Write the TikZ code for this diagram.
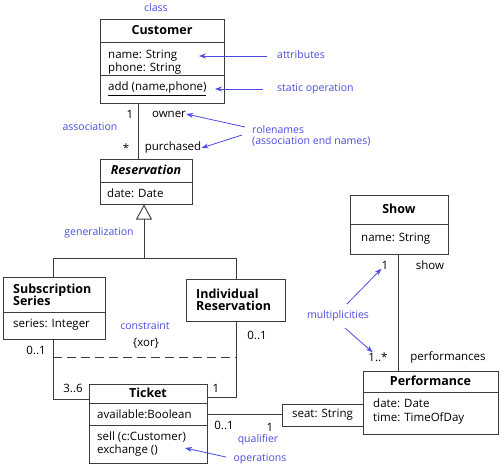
\documentclass[tikz,border=0pt]{standalone}
\usepackage{fontspec}
\setmainfont{Open Sans}
\usetikzlibrary{arrows.meta}
\definecolor{ann}{RGB}{75,75,225}
\definecolor{ln}{RGB}{60,60,60}
\begin{document}
\begin{tikzpicture}[x=1pt,y=-1pt,
  box/.style={draw=ln,line width=0.9pt,inner sep=0pt},
  txt/.style={font=\fontsize{11.5}{13}\selectfont,inner sep=0pt,anchor=west},
  ctxt/.style={font=\fontsize{11.5}{13}\selectfont,inner sep=0pt},
  ttl/.style={font=\fontsize{12.5}{14}\selectfont\bfseries,inner sep=0pt},
  lbl/.style={font=\fontsize{10.5}{12}\selectfont,text=ann,inner sep=0pt},
  wire/.style={draw=ln,line width=0.9pt},
  ptr/.style={draw=ann,line width=0.8pt,-{Stealth[length=7pt,width=5pt]}}]
\useasboundingbox (0,0) rectangle (500,467);
% Customer
\node[box,minimum width=124pt,minimum height=84pt] (customer) at (162,61) {};
\draw[wire] (100,42) -- (224,42) (100,75) -- (224,75);
\node[ttl] (customerT) at (162,30) {Customer};
\node[txt] (cname) at (108,56) {name: String};
\node[txt] (cphone) at (108,69) {phone: String};
\node[txt] (cadd) at (108,89) {\underline{add (name,phone)}};
% Reservation
\node[box,minimum width=92pt,minimum height=45pt] (reservation) at (146,181.5) {};
\draw[wire] (100,182) -- (192,182);
\node[ttl] (reservationT) at (146,170) {\itshape Reservation};
\node[txt] (rdate) at (107,193) {date: Date};
% Subscription Series
\node[box,minimum width=102pt,minimum height=62pt] (subs) at (54,308) {};
\draw[wire] (3,312) -- (105,312);
\node[ttl,anchor=west,align=left] (subsT) at (13,295) {Subscription\\[-2pt]Series};
\node[txt] (sseries) at (13,325) {series: Integer};
% Individual Reservation
\node[box,minimum width=99pt,minimum height=42pt] (indiv) at (235.5,300) {};
\node[ttl,anchor=west,align=left] (indivT) at (196,300) {Individual\\[-2pt]Reservation};
% Ticket
\node[box,minimum width=118pt,minimum height=79pt] (ticket) at (148,423.5) {};
\draw[wire] (89,403) -- (207,403) (89,425) -- (207,425);
\node[ttl] (ticketT) at (148,393) {Ticket};
\node[txt] (tavail) at (97,414) {available:Boolean};
\node[txt] (tsell) at (97,437) {sell (c:Customer)};
\node[txt] (texch) at (97,451) {exchange ()};
% Qualifier
\node[box,minimum width=81pt,minimum height=22pt] (qual) at (322.5,415) {};
\node[ctxt] (qualT) at (322.5,415) {seat: String};
% Performance
\node[box,minimum width=135pt,minimum height=63pt] (perf) at (430.5,402.5) {};
\draw[wire] (363,392) -- (498,392);
\node[ttl] (perfT) at (430.5,381) {Performance};
\node[txt] (pdate) at (373,403) {date: Date};
\node[txt] (ptime) at (373,418) {time: TimeOfDay};
% Show
\node[box,minimum width=98pt,minimum height=59pt] (show) at (399,224.5) {};
\draw[wire] (350,224) -- (448,224);
\node[ttl] (showT) at (399,209) {Show};
\node[txt] (sname) at (361,239) {name: String};
% connectors
\coordinate (assocTop) at (138,103);
\coordinate (assocBot) at (138,159);
\draw[wire] (assocTop) -- (assocBot);
\coordinate (genBot) at (144,258);
\draw[wire,-{Triangle[open,length=15pt,width=16pt]}] (genBot) -- (144,204.5);
\coordinate (gL) at (53,258);
\coordinate (gR) at (236,258);
\draw[wire] (subs.north -| gL) |- (gR) -- (indiv.north -| gR);
\coordinate (sL) at (53,399);
\draw[wire] (subs.south -| sL) -- (sL) -- (ticket.west |- sL);
\coordinate (iR) at (236,397);
\draw[wire] (indiv.south -| iR) -- (iR) -- (ticket.east |- iR);
\draw[draw=ln,line width=0.9pt,dash pattern=on 9pt off 5pt] (53,357) -- (236,357);
\draw[wire] (ticket.east |- 0,414) -- (qual.west |- 0,414);
\coordinate (showLine) at (398,254);
\draw[wire] (showLine) -- (perf.north -| showLine);
% multiplicities and role names
\node[ctxt] (m1) at (130,114) {1};
\node[ctxt] (owner) at (169,114) {owner};
\node[ctxt] (mstar) at (126,148) {*};
\node[ctxt] (purch) at (173,148) {purchased};
\node[ctxt] (m01a) at (36,350) {0..1};
\node[ctxt] (m36) at (73,388) {3..6};
\node[ctxt] (m01b) at (257,335) {0..1};
\node[ctxt] (m1b) at (216,388) {1};
\node[ctxt] (xor) at (146,343) {\{xor\}};
\node[ctxt] (m01c) at (224,425) {0..1};
\node[ctxt] (m1c) at (270,427) {1};
\node[ctxt] (m1d) at (385,265) {1};
\node[ctxt] (showR) at (430,265) {show};
\node[ctxt] (m1s) at (378,357) {1..*};
\node[ctxt] (perfR) at (448,357) {performances};
% annotations
\node[lbl] (lclass) at (156,8) {class};
\node[lbl,anchor=west] (lattr) at (277,55) {attributes};
\node[lbl,anchor=west] (lstat) at (277,89) {static operation};
\node[lbl] (lassoc) at (90,127) {association};
\node[lbl,anchor=west,align=left] (lrole) at (252,135.5) {rolenames\\[-1pt](association end names)};
\node[lbl] (lgen) at (99,233) {generalization};
\node[lbl] (lcons) at (145,326) {constraint};
\node[lbl] (lqual) at (258,440) {qualifier};
\node[lbl] (lops) at (260,459) {operations};
\node[lbl] (lmult) at (338,316) {multiplicities};
\coordinate (aA) at (267,56);
\draw[ptr] (aA) -- (cname.east -| 199,0);
\coordinate (aS) at (263,89);
\draw[ptr] (aS) -- (215,89);
\coordinate (r1) at (245,127);
\draw[ptr] (r1) -- (owner.east);
\coordinate (r2) at (242,135);
\draw[ptr] (r2) -- (purch.east);
\coordinate (o1) at (226,457);
\draw[ptr] (o1) -- (185,448);
\coordinate (mu1) at (347,304);
\draw[ptr] (mu1) -- (m1d);
\coordinate (mu2) at (345,328);
\draw[ptr] (mu2) -- (m1s);
\end{tikzpicture}
\end{document}
